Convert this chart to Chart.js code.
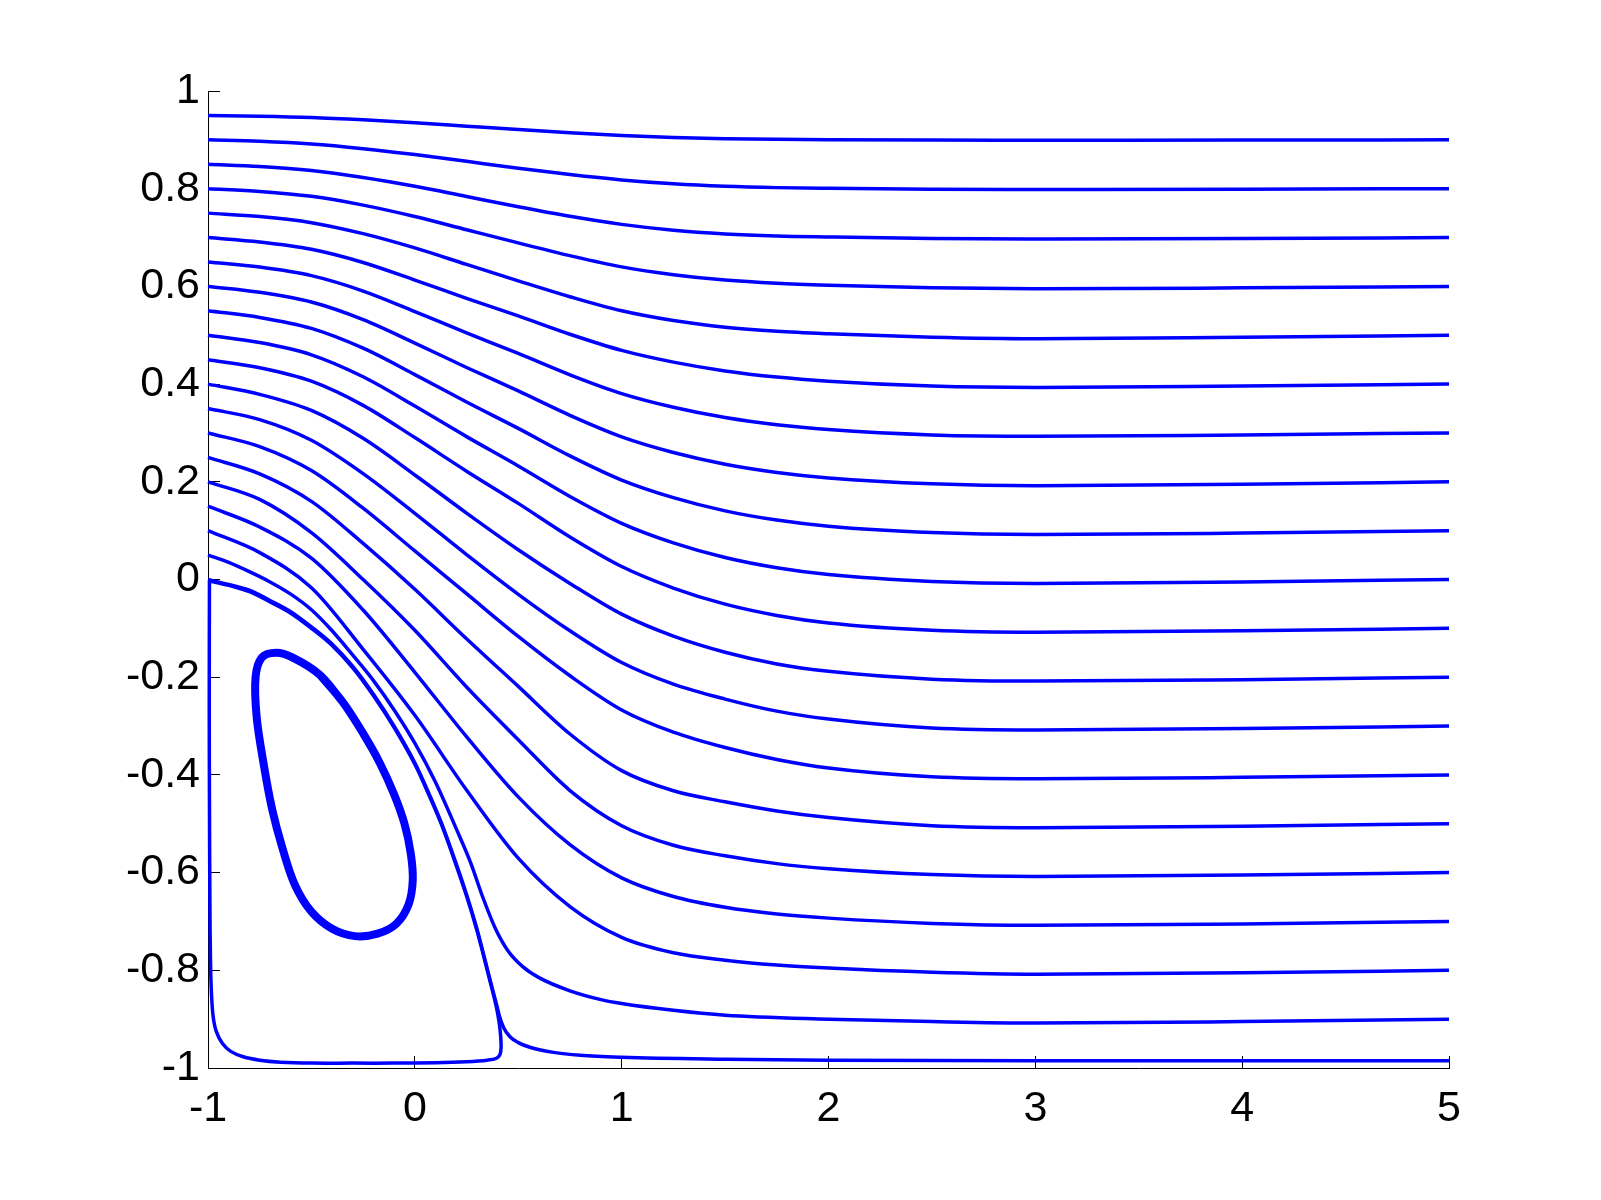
<!DOCTYPE html>
<html>
<head>
<meta charset="utf-8">
<script src="https://cdn.jsdelivr.net/npm/chart.js@4"></script>
<style>
html,body{margin:0;padding:0;background:#fff;}
canvas{display:block;}
</style>
</head>
<body>
<canvas id="c" width="1601" height="1200"></canvas>
<script>
// ---- data ----
const xTicks = [-1, 0, 1, 2, 3, 4, 5];
const yTicks = [1, 0.8, 0.6, 0.4, 0.2, 0, -0.2, -0.4, -0.6, -0.8, -1];

// common x positions of the upper streamlines
const xGrid = [-1, -0.75, -0.5, -0.25, 0, 0.25, 0.5, 0.75, 1, 1.25, 1.5, 1.75, 2, 2.5, 3, 4, 5];

const line00 = [0.950,0.9485,0.9458,0.941,0.935,0.928,0.921,0.9145,0.909,0.905,0.9025,0.9011,0.9004,0.8996,0.8993,0.8995,0.900];
const line01 = [0.900,0.897,0.8915,0.882,0.870,0.856,0.842,0.829,0.818,0.810,0.805,0.8022,0.8008,0.799,0.7985,0.799,0.800];
const line02 = [0.850,0.8455,0.8373,0.823,0.805,0.784,0.763,0.7435,0.727,0.715,0.7075,0.7033,0.7012,0.698,0.697,0.698,0.700];
const line03 = [0.800,0.7944,0.7844,0.7664,0.743,0.716,0.689,0.663,0.640,0.624,0.613,0.6064,0.6024,0.597,0.595,0.597,0.600];
const line04 = [0.750,0.743,0.7305,0.708,0.6788,0.645,0.6113,0.5788,0.550,0.530,0.5163,0.508,0.503,0.496,0.493,0.496,0.500];
const line05 = [0.700,0.691,0.676,0.649,0.613,0.5755,0.5395,0.502,0.469,0.445,0.427,0.4144,0.406,0.396,0.393,0.396,0.400];
const line06 = [0.650,0.6395,0.622,0.5905,0.5485,0.5048,0.4628,0.419,0.3805,0.3525,0.3315,0.3168,0.307,0.296,0.293,0.296,0.300];
const line07 = [0.600,0.588,0.568,0.532,0.484,0.434,0.386,0.336,0.292,0.260,0.236,0.2192,0.208,0.196,0.192,0.195,0.200];
const line08 = [0.550,0.5365,0.514,0.4735,0.4195,0.3633,0.3093,0.253,0.2035,0.1675,0.1405,0.1216,0.109,0.096,0.092,0.095,0.100];
const line09 = [0.500,0.485,0.460,0.415,0.355,0.2925,0.2325,0.170,0.115,0.075,0.045,0.024,0.010,-0.004,-0.008,-0.005,0.000];
const line10 = [0.450,0.4335,0.406,0.3565,0.2905,0.2218,0.1558,0.087,0.0265,-0.0175,-0.0505,-0.0736,-0.089,-0.104,-0.108,-0.105,-0.100];
const line11 = [0.400,0.379,0.346,0.289,0.214,0.136,0.061,-0.008,-0.071,-0.116,-0.149,-0.173,-0.188,-0.204,-0.208,-0.205,-0.200];
const line12 = [0.350,0.3273,0.285,0.2168,0.1355,0.051,-0.0303,-0.105,-0.170,-0.2142,-0.2448,-0.2695,-0.2857,-0.304,-0.308,-0.305,-0.300];
const line13 = [0.300,0.272,0.223,0.146,0.0585,-0.029,-0.1165,-0.197,-0.267,-0.3125,-0.344,-0.3685,-0.386,-0.404,-0.408,-0.405,-0.400];
const line14 = [0.250,0.2163,0.160,0.0738,-0.020,-0.1213,-0.2188,-0.3163,-0.3913,-0.4325,-0.455,-0.4738,-0.4873,-0.504,-0.508,-0.505,-0.500];
const line15 = [0.200,0.164,0.096,0.000,-0.104,-0.220,-0.328,-0.432,-0.504,-0.544,-0.5656,-0.5816,-0.592,-0.604,-0.608,-0.605,-0.600];
const line16 = [0.150,0.1075,0.0438,-0.0625,-0.190,-0.3218,-0.445,-0.5428,-0.6108,-0.649,-0.6711,-0.6847,-0.6932,-0.704,-0.708,-0.705,-0.700];
const line17 = [0.100,0.055,-0.017,-0.143,-0.278,-0.431,-0.5705,-0.6695,-0.7325,-0.764,-0.7793,-0.7892,-0.7955,-0.804,-0.808,-0.805,-0.800];

const line18X = [-1,-0.9,-0.8,-0.7,-0.6,-0.5,-0.4,-0.3,-0.2,-0.1,0,0.1,0.2,0.27,0.33,0.39,0.45,0.52,0.6,0.75,0.9,1.0,1.25,1.5,2,2.5,3,4,5];
const line18Y = [0.050,0.035,0.016,-0.005,-0.030,-0.062,-0.105,-0.155,-0.207,-0.267,-0.335,-0.415,-0.510,-0.580,-0.652,-0.715,-0.760,-0.792,-0.815,-0.842,-0.860,-0.868,-0.882,-0.892,-0.900,-0.905,-0.908,-0.905,-0.900];

const line19X = [-1,-0.9,-0.8,-0.7,-0.6,-0.5,-0.4,-0.3,-0.2,-0.1,0,0.07,0.13,0.19,0.25,0.3,0.34,0.37,0.395,0.41,0.43,0.46,0.5,0.56,0.67,0.8,1,1.5,2,3,4,5];
const line19Y = [0.000,-0.010,-0.022,-0.043,-0.066,-0.097,-0.132,-0.178,-0.235,-0.300,-0.375,-0.440,-0.500,-0.570,-0.645,-0.715,-0.780,-0.830,-0.870,-0.895,-0.918,-0.936,-0.948,-0.958,-0.968,-0.974,-0.978,-0.982,-0.984,-0.985,-0.985,-0.985];

const loopX = [-0.993,-0.96,-0.9,-0.8,-0.7,-0.6,-0.5,-0.4,-0.3,-0.2,-0.1,0,0.07,0.13,0.19,0.25,0.3,0.34,0.37,0.393,0.407,0.415,0.417,0.412,0.395,0.35,0.25,0.1,-0.1,-0.3,-0.5,-0.65,-0.75,-0.83,-0.89,-0.93,-0.96,-0.975,-0.983,-0.988,-0.991,-0.993,-0.994,-0.993];
const loopY = [-0.003,-0.006,-0.012,-0.025,-0.046,-0.069,-0.100,-0.135,-0.181,-0.238,-0.303,-0.378,-0.443,-0.503,-0.573,-0.648,-0.718,-0.783,-0.833,-0.873,-0.905,-0.935,-0.958,-0.972,-0.980,-0.984,-0.987,-0.989,-0.990,-0.990,-0.990,-0.988,-0.984,-0.977,-0.966,-0.950,-0.925,-0.895,-0.850,-0.780,-0.650,-0.450,-0.250,-0.003];

// closed eddy: traced once around, passing its start again so the join is smooth
const eddyX = [-0.46,-0.35,-0.25,-0.17,-0.10,-0.05,-0.02,-0.01,-0.03,-0.09,-0.18,-0.29,-0.40,-0.50,-0.58,-0.64,-0.69,-0.73,-0.765,-0.77,-0.74,-0.67,-0.59,-0.46,-0.35];
const eddyY = [-0.195,-0.250,-0.315,-0.375,-0.440,-0.500,-0.560,-0.615,-0.665,-0.705,-0.725,-0.730,-0.715,-0.680,-0.625,-0.550,-0.470,-0.380,-0.280,-0.200,-0.160,-0.150,-0.160,-0.195,-0.250];

// ---- build datasets ----
const BLUE = '#0000ff';
function zip(xs, ys) { return xs.map((x, i) => ({x: x, y: ys[i]})); }
function curve(xs, ys, w) {
  return {data: zip(xs, ys), borderColor: BLUE, borderWidth: w, showLine: true,
          pointRadius: 0, pointHoverRadius: 0, fill: false,
          cubicInterpolationMode: 'monotone', clip: false};
}
function loopCurve(xs, ys, w) {
  return {data: zip(xs, ys), borderColor: BLUE, borderWidth: w, showLine: true,
          pointRadius: 0, pointHoverRadius: 0, fill: false, tension: 0.35, clip: false,
          borderJoinStyle: 'round'};
}
const upper = [line00,line01,line02,line03,line04,line05,line06,line07,line08,line09,
               line10,line11,line12,line13,line14,line15,line16,line17];
const datasets = upper.map(ys => curve(xGrid, ys, 3.5));
datasets.push(curve(line18X, line18Y, 3.5));
datasets.push(curve(line19X, line19Y, 3.5));
datasets.push(loopCurve(loopX, loopY, 3.5));
datasets.push(loopCurve(eddyX, eddyY, 8));

const FONT = {family: '"Liberation Sans", Arial, Helvetica, sans-serif', size: 43};

new Chart(document.getElementById('c'), {
  type: 'scatter',
  data: {datasets: datasets},
  options: {
    responsive: false,
    animation: false,
    devicePixelRatio: 1,
    layout: {padding: {left: 0, right: 152, top: 91, bottom: 0}},
    plugins: {legend: {display: false}, tooltip: {enabled: false}},
    events: [],
    scales: {
      x: {
        type: 'linear', position: 'bottom', min: -1, max: 5,
        afterBuildTicks: s => { s.ticks = xTicks.map(v => ({value: v})); },
        afterFit: s => { s.height = 132; },
        ticks: {color: '#000', font: FONT, padding: 27, maxRotation: 0,
                callback: v => String(v)},
        grid: {display: true, drawOnChartArea: false, drawTicks: true, tickLength: -12,
               tickColor: '#000', tickWidth: 1},
        border: {display: true, color: '#000', width: 1}
      },
      y: {
        type: 'linear', position: 'left', min: -1, max: 1,
        afterBuildTicks: s => { s.ticks = yTicks.map(v => ({value: v})); },
        afterFit: s => { s.width = 208; },
        ticks: {color: '#000', font: FONT, padding: 20,
                callback: v => String(Math.round(v * 10) / 10)},
        grid: {display: true, drawOnChartArea: false, drawTicks: true, tickLength: -12,
               tickColor: '#000', tickWidth: 1},
        border: {display: true, color: '#000', width: 1}
      }
    }
  }
});
</script>
</body>
</html>
